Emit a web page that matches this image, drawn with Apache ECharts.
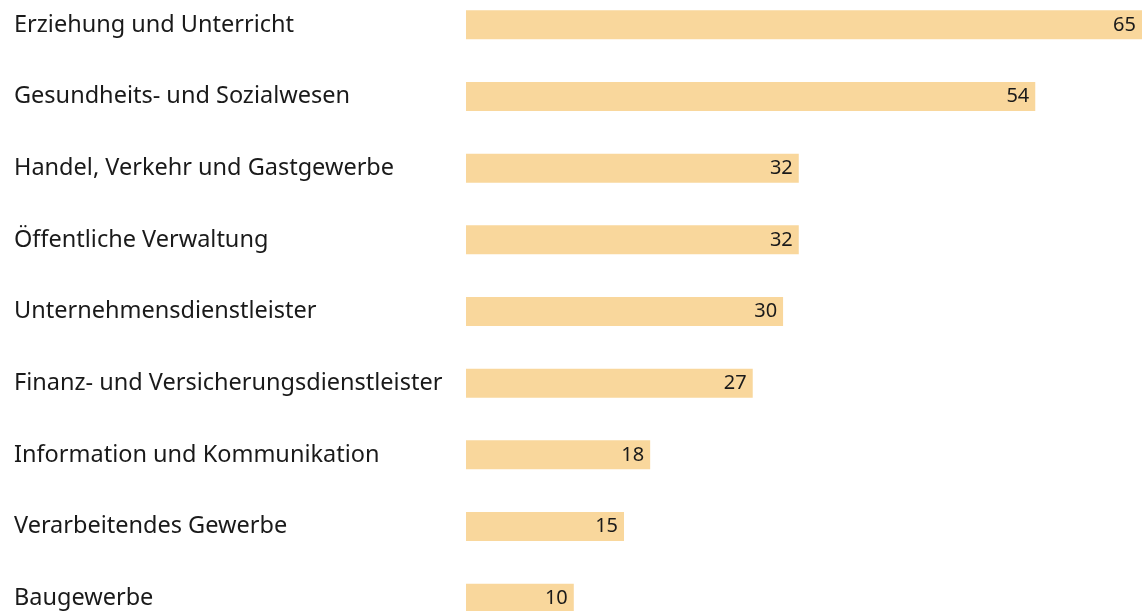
<!DOCTYPE html>
<html>
	<head>
		<meta charset="utf-8" />
		<title></title>
		<script type="text/javascript" src="https://cdn.jsdelivr.net/npm/echarts@6/dist/echarts.min.js"></script>
		<style>
			html, body { margin: 0; padding: 0; background: #fff; overflow: hidden; }
		</style>
	</head>
	<body>
		<!-- etwas höher als das Fenster, der letzte Balken wird unten angeschnitten -->
		<div id="main" style="position:absolute; left:0; top:-11.5px; width:1142px; height: 645px;"></div>
		<script>
			// Branchen, von oben nach unten
			var branchen = [
				'Erziehung und Unterricht',
				'Gesundheits- und Sozialwesen',
				'Handel, Verkehr und Gastgewerbe',
				'Öffentliche Verwaltung',
				'Unternehmensdienstleister',
				'Finanz- und Versicherungsdienstleister',
				'Information und Kommunikation',
				'Verarbeitendes Gewerbe',
				'Baugewerbe'
			];
			// Werte aus den Balkenlängen geschätzt (Beschriftung gerundet)
			var werte = [64.6, 54.4, 31.8, 31.8, 30.3, 27.4, 17.6, 15.1, 10.3];

			var chartDom = document.getElementById('main');
			var myChart = echarts.init(chartDom);

			var option = {
				animation: false,
				textStyle: { fontFamily: 'Noto Sans' },
				grid: {
					left: 466,
					right: 0,
					top: 0,
					bottom: 0
				},
				xAxis: {
					type: 'value',
					min: 0,
					max: 'dataMax',
					show: false
				},
				yAxis: {
					type: 'category',
					inverse: true,
					data: branchen,
					axisLine: { show: false },
					axisTick: { show: false },
					axisLabel: {
						align: 'left',
						margin: 452,
						fontSize: 23.5,
						color: '#1a1a1a',
						fontFamily: 'Noto Sans'
					}
				},
				series: [
					{
						type: 'bar',
						data: werte,
						barWidth: 29,
						itemStyle: { color: '#F9D79C' },
						label: {
							show: true,
							position: 'insideRight',
							distance: 6,
							fontSize: 20,
							color: '#1a1a1a',
							fontFamily: 'Noto Sans',
							formatter: function (p) {
								return Math.round(p.value);
							}
						}
					}
				]
			};
			myChart.setOption(option);
		</script>
	</body>
</html>
